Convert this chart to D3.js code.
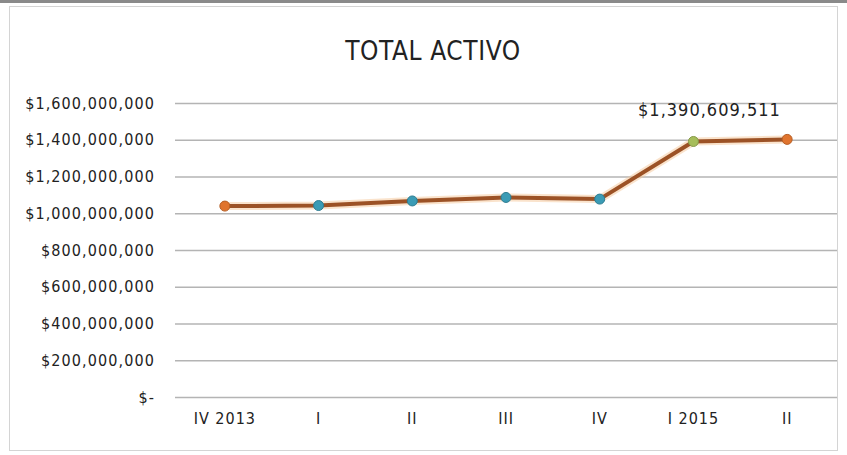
<!DOCTYPE html>
<html>
<head>
<meta charset="utf-8">
<script src="https://cdn.jsdelivr.net/npm/d3@7"></script>
<style>
  body { margin: 0; background: #fff; }
  text { font-family: "Liberation Sans Narrow", "DejaVu Sans Condensed", sans-serif; fill: #222; }
</style>
</head>
<body>
<script>
// data
const categories = ["IV 2013", "I", "II", "III", "IV", "I 2015", "II"];
const values = [1039000000, 1042000000, 1067000000, 1086000000, 1077000000, 1390609511, 1402000000];
const markerColors = ["#e0742e", "#3a9bb5", "#3a9bb5", "#3a9bb5", "#3a9bb5", "#a6bd5a", "#e0742e"];
const yTicks = [0, 200000000, 400000000, 600000000, 800000000, 1000000000, 1200000000, 1400000000, 1600000000];
const labelIndex = 5;

const W = 847, H = 455;
const svg = d3.select("body").append("svg")
  .attr("width", W).attr("height", H)
  .attr("xmlns", "http://www.w3.org/2000/svg");

// frame
svg.append("rect").attr("x", 0).attr("y", 0).attr("width", W).attr("height", 3).attr("fill", "#8a8a8a");
svg.append("rect").attr("x", 9.5).attr("y", 6.5).attr("width", 828).attr("height", 444)
  .attr("fill", "none").attr("stroke", "#d4d4d4");

const margin = { left: 178, right: 13, top: 103, bottom: 58 };
const x = d3.scaleBand().domain(categories.map((c, i) => i)).range([margin.left, W - margin.right]);
const y = d3.scaleLinear().domain([0, 1600000000]).range([397, 103]);

// title
svg.append("text").attr("x", 433).attr("y", 60).attr("text-anchor", "middle")
  .style("font-size", "26px").style("letter-spacing", "0.6px").text("TOTAL ACTIVO");

// grid
const fmt = d => d === 0 ? "$-" : "$" + d3.format(",")(d);
const yAxis = svg.append("g").attr("transform", `translate(${margin.left - 3},0)`)
  .call(d3.axisLeft(y).tickValues(yTicks).tickFormat(fmt).tickSize(-(W - margin.right - margin.left + 6)).tickPadding(20));
yAxis.select(".domain").remove();
yAxis.selectAll("line").attr("stroke", "#b4b4b4").attr("stroke-width", 1.3);
yAxis.selectAll("text").style("font-size", "16px").style("letter-spacing", "1.1px")
  .attr("fill", "#222").attr("dy", "0.32em");

// x axis
const xAxis = svg.append("g").attr("transform", "translate(0,397)")
  .call(d3.axisBottom(x).tickFormat(i => categories[i]).tickSize(0).tickPadding(16));
xAxis.select(".domain").remove();
xAxis.selectAll("text").style("font-size", "16px").style("letter-spacing", "1px").attr("fill", "#222");

// line
const line = d3.line().x((d, i) => x(i) + x.bandwidth() / 2).y(d => y(d));
svg.append("path").datum(values).attr("d", line)
  .attr("fill", "none").attr("stroke", "#f6c79a").attr("stroke-width", 8).attr("stroke-opacity", 0.5)
  .attr("stroke-linejoin", "round");
svg.append("path").datum(values).attr("d", line)
  .attr("fill", "none").attr("stroke", "#9c5226").attr("stroke-width", 4)
  .attr("stroke-linejoin", "round");

// markers
svg.selectAll("circle.m").data(values).enter().append("circle")
  .attr("class", "m")
  .attr("cx", (d, i) => x(i) + x.bandwidth() / 2)
  .attr("cy", d => y(d))
  .attr("r", 5)
  .attr("fill", (d, i) => markerColors[i])
  .attr("stroke", (d, i) => d3.color(markerColors[i]).darker(0.6))
  .attr("stroke-width", 1);

// data label
svg.append("text")
  .attr("x", x(labelIndex) + x.bandwidth() / 2 + 16)
  .attr("y", y(values[labelIndex]) - 25)
  .attr("text-anchor", "middle")
  .style("font-size", "18px").style("letter-spacing", "1px")
  .text("$" + d3.format(",")(values[labelIndex]));
</script>
</body>
</html>
